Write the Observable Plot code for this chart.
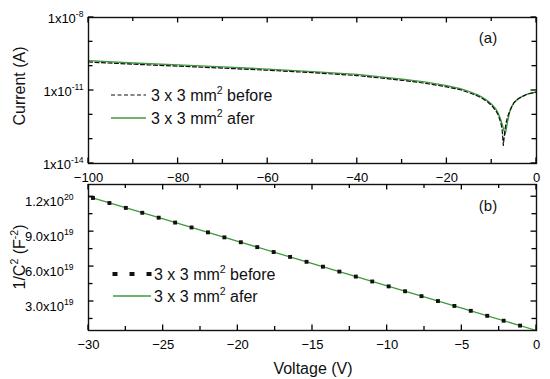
<!DOCTYPE html>
<html><head><meta charset="utf-8">
<script src="https://cdn.jsdelivr.net/npm/d3@7"></script>
<script src="https://cdn.jsdelivr.net/npm/@observablehq/plot@0.6"></script>
<style>
html,body{margin:0;padding:0;background:#fff;}
</style></head><body><div id="chart"></div>
<script>
const GREEN = "#3c9a3c";

// ---- Panel (a): I-V, log current ----
const ivVoltageAfter = [-100,-90,-80,-70,-60,-50,-40,-30,-25,-20,-17,-15,-13,-12,-11,-10,-9,-8.5,-8,-7.5,-7.2,-7.0,-6.8,-6.5,-6.0,-5.5,-5,-4,-3,-2,-1,0];
const ivCurrentAfter = [1.70e-10,1.35e-10,1.12e-10,9.3e-11,7.6e-11,6.0e-11,4.6e-11,2.95e-11,2.24e-11,1.58e-11,1.20e-11,9.1e-12,6.5e-12,5.1e-12,3.9e-12,2.75e-12,1.66e-12,1.12e-12,6.5e-13,3.3e-13,2.04e-13,1.55e-13,2.3e-13,4.8e-13,1.26e-12,2.2e-12,3.2e-12,4.7e-12,5.9e-12,7.2e-12,7.9e-12,8.7e-12];
const ivVoltageBefore = [-100,-90,-80,-70,-60,-50,-40,-30,-25,-20,-17,-15,-13,-12,-11,-10,-9,-8.5,-8,-7.7,-7.4,-7.1,-6.8,-6.5,-6.0,-5.5,-5,-4,-3,-2,-1,0];
const ivCurrentBefore = [1.48e-10,1.20e-10,1.00e-10,8.3e-11,6.8e-11,5.4e-11,4.1e-11,2.63e-11,2.0e-11,1.41e-11,1.07e-11,8.1e-12,5.8e-12,4.6e-12,3.5e-12,2.4e-12,1.41e-12,9.3e-13,5.0e-13,2.8e-13,5.5e-14,2.0e-13,4.5e-13,7.9e-13,1.41e-12,2.24e-12,3.2e-12,4.7e-12,5.9e-12,7.1e-12,7.9e-12,8.5e-12];

// ---- Panel (b): 1/C^2 vs V ----
const cvVoltageBefore = [-29.7,-28.6,-27.5,-26.4,-25.3,-24.2,-23.1,-22.0,-20.9,-19.8,-18.7,-17.6,-16.5,-15.4,-14.3,-13.2,-12.1,-11.0,-9.9,-8.8,-7.7,-6.6,-5.5,-4.4,-3.3,-2.2,-1.1];
const cvInvC2Before = [1.189e20,1.146e20,1.104e20,1.062e20,1.020e20,9.78e19,9.36e19,8.94e19,8.51e19,8.09e19,7.67e19,7.25e19,6.83e19,6.41e19,5.99e19,5.57e19,5.14e19,4.72e19,4.30e19,3.88e19,3.46e19,3.04e19,2.62e19,2.20e19,1.77e19,1.35e19,9.3e18];
const cvVoltageAfter = [-30,-25,-20,-15,-10,-5,0];
const cvInvC2After = [1.200e20,1.009e20,8.17e19,6.25e19,4.34e19,2.43e19,5.1e18];

// ---- ticks & labels ----
const ivXTicks = [-100,-80,-60,-40,-20,0];
const ivXMinor = [-90,-70,-50,-30,-10];
const ivYTicks = [1e-14,1e-11,1e-8];
const ivYLabels = ["1x10^{-14}","1x10^{-11}","1x10^{-8}"];
const ivYMinor = [1e-13,1e-12,1e-10,1e-9];
const cvXTicks = [-30,-25,-20,-15,-10,-5,0];
const cvXMinor = [-27.5,-22.5,-17.5,-12.5,-7.5,-2.5];
const cvYTicks = [3e19,6e19,9e19,1.2e20];
const cvYLabels = ["3.0x10^{19}","6.0x10^{19}","9.0x10^{19}","1.2x10^{20}"];
const cvYMinor = [1.5e19,4.5e19,7.5e19,1.05e20];

const legendLabels = ["3 x 3 mm^{2} before","3 x 3 mm^{2} afer"];
const yTitleA = "Current (A)";
const yTitleB = "1/C^{2} (F^{-2})";
const xTitle = "Voltage (V)";

const ivAfter = ivVoltageAfter.map((v,i)=>({v, c: ivCurrentAfter[i]}));
const ivBefore = ivVoltageBefore.map((v,i)=>({v, c: ivCurrentBefore[i]}));
const cvBefore = cvVoltageBefore.map((v,i)=>({v, c: cvInvC2Before[i]}));
const cvAfter = cvVoltageAfter.map((v,i)=>({v, c: cvInvC2After[i]}));

function frameAxes(xT, yT, yLabels, yPad, yDy) {
  return [
    Plot.axisX(xT, {anchor:"bottom", tickSize:0, tickPadding:9.5, fontSize:13, label:null}),
    Plot.axisY(yT, {anchor:"left", tickSize:0, tickPadding:yPad, fontSize:13, dy:yDy, label:null,
      tickFormat: d => yLabels[yT.indexOf(d)]}),
    Plot.frame({stroke:"#111", strokeWidth:1.4})
  ];
}

const plotA = Plot.plot({
  width:550, height:180, marginLeft:88, marginRight:14, marginTop:17, marginBottom:17,
  x:{domain:[-100,0]},
  y:{type:"log", domain:[1e-14,1e-8]},
  marks:[
    Plot.line(ivAfter, {x:"v", y:"c", stroke:GREEN, strokeWidth:1.3}),
    Plot.line(ivBefore, {x:"v", y:"c", stroke:"#111", strokeWidth:1.2, strokeDasharray:"4,2.5"}),
    ...frameAxes(ivXTicks, ivYTicks, ivYLabels, 5, 1)
  ]
});

const plotB = Plot.plot({
  width:550, height:199, marginLeft:88, marginRight:14, marginTop:4, marginBottom:49,
  x:{domain:[-30,0]},
  y:{domain:[5.1e18,1.305e20]},
  marks:[
    Plot.line(cvAfter, {x:"v", y:"c", stroke:GREEN, strokeWidth:1.3}),
    Plot.dot(cvBefore, {x:"v", y:"c", symbol:"square", r:2.2, fill:"#111", stroke:null}),
    ...frameAxes(cvXTicks, cvYTicks, cvYLabels, 15, 5)
  ]
});

const root = document.getElementById("chart");
root.appendChild(plotA);
root.appendChild(plotB);
[plotA, plotB].forEach(svg => d3.select(svg)
  .attr("font-family", "'Liberation Sans', Arial, sans-serif").attr("font-size", 13)
  .style("display", "block").style("overflow", "visible"));

// inward ticks on all four sides, placed through Plot's own scales
function drawTicks(svg, xT, xM, yT, yM, top, bottom, left, right) {
  const sx = svg.scale("x"), sy = svg.scale("y");
  const g = d3.select(svg).append("g").attr("stroke", "#000").attr("stroke-width", 1.3);
  const xt = (vals, len) => vals.forEach(v => {
    const x = sx.apply(v);
    g.append("line").attr("x1", x).attr("x2", x).attr("y1", bottom).attr("y2", bottom - len);
    g.append("line").attr("x1", x).attr("x2", x).attr("y1", top).attr("y2", top + len);
  });
  const yt = (vals, len) => vals.forEach(v => {
    const y = sy.apply(v);
    g.append("line").attr("y1", y).attr("y2", y).attr("x1", left).attr("x2", left + len);
    g.append("line").attr("y1", y).attr("y2", y).attr("x1", right).attr("x2", right - len);
  });
  xt(xT, 5.5); xt(xM, 4); yt(yT, 5.5); yt(yM, 4.5);
}
drawTicks(plotA, ivXTicks, ivXMinor, ivYTicks, ivYMinor, 17, 163, 88, 536);
drawTicks(plotB, cvXTicks, cvXMinor, cvYTicks, cvYMinor, 4, 150, 88, 536);

function supText(sel, str, fs) {
  sel.text(null);
  const re = /\^\{([^}]*)\}/g;
  let last = 0, m, shifted = false;
  const shift = fs*0.42, small = fs*0.66;
  while ((m = re.exec(str))) {
    if (m.index > last) {
      const t = sel.append("tspan").text(str.slice(last, m.index));
      if (shifted) { t.attr("dy", shift); shifted = false; }
    }
    sel.append("tspan").attr("font-size", small).attr("dy", -shift).text(m[1]);
    shifted = true; last = re.lastIndex;
  }
  if (last < str.length) {
    const t = sel.append("tspan").text(str.slice(last));
    if (shifted) t.attr("dy", shift);
  }
}

function addText(svg, str, x, y, fs, opts={}) {
  const t = d3.select(svg).append("text")
    .attr("font-size", fs).attr("fill", "#111")
    .attr("text-anchor", opts.anchor || "start");
  if (opts.rotate) t.attr("transform", `translate(${x},${y}) rotate(-90)`).attr("dy","0.35em");
  else t.attr("x", x).attr("y", y).attr("dy","0.35em");
  supText(t, str, fs);
  return t;
}

[plotA, plotB].forEach(svg => {
  d3.select(svg).selectAll("text").each(function(){
    const s = this.textContent;
    if (s.includes("^{")) supText(d3.select(this), s, 13);
  });
});

// Panel (a) overlays
addText(plotA, "(a)", 488, 38, 15, {anchor:"middle"});
addText(plotA, yTitleA, 19.5, 86, 16, {anchor:"middle", rotate:true});
d3.select(plotA).append("line").attr("x1",111).attr("x2",146).attr("y1",95).attr("y2",95)
  .attr("stroke","#111").attr("stroke-width",1.2).attr("stroke-dasharray","4,2.5");
addText(plotA, legendLabels[0], 151, 95, 16);
d3.select(plotA).append("line").attr("x1",111).attr("x2",146).attr("y1",118).attr("y2",118)
  .attr("stroke",GREEN).attr("stroke-width",1.3);
addText(plotA, legendLabels[1], 151, 118, 16);

// Panel (b) overlays (svg starts at y=180)
addText(plotB, "(b)", 488, 26, 15, {anchor:"middle"});
addText(plotB, yTitleB, 19.5, 77, 16, {anchor:"middle", rotate:true});
[115,132,149].forEach(x => d3.select(plotB).append("rect")
  .attr("x", x-2.5).attr("y", 94-2).attr("width",5).attr("height",4).attr("fill","#111"));
addText(plotB, legendLabels[0], 154, 94, 16);
d3.select(plotB).append("line").attr("x1",113).attr("x2",151).attr("y1",116).attr("y2",116)
  .attr("stroke",GREEN).attr("stroke-width",1.3);
addText(plotB, legendLabels[1], 154, 116, 16);
addText(plotB, xTitle, 313, 188, 16, {anchor:"middle"});
</script>
</body></html>
